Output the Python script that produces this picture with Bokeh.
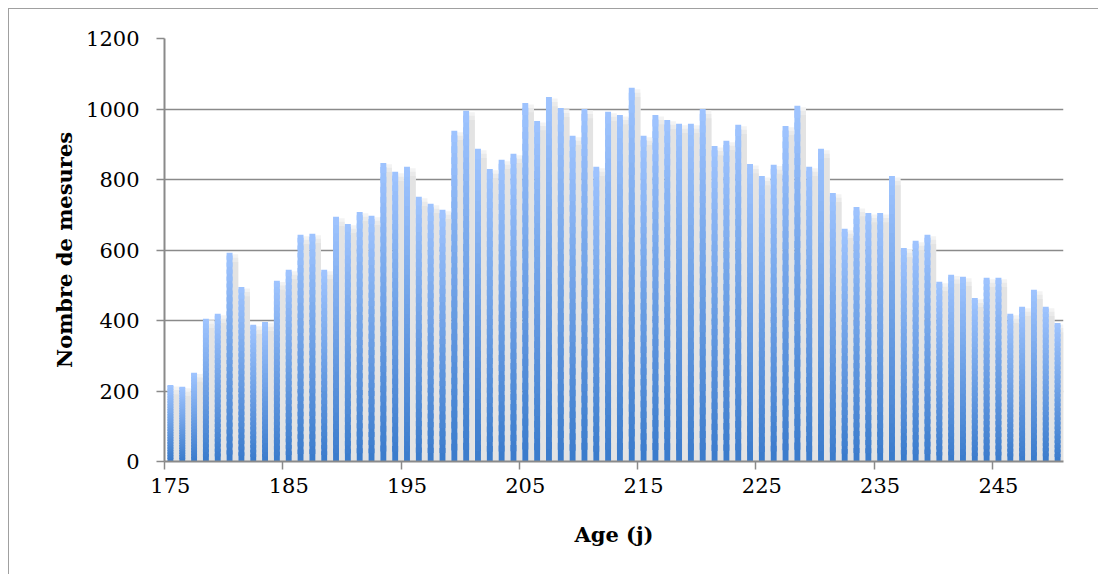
import numpy as np
from bokeh.plotting import figure
from bokeh.models import Range1d, FixedTicker, ColumnDataSource
from bokeh.transform import dodge
from bokeh.embed import file_html
from bokeh.resources import INLINE

# ---- data -------------------------------------------------------------
ages = list(range(175, 251))
counts = [217, 212, 252, 405, 419, 592, 495, 388, 396, 513, 544, 643, 646, 544, 694, 674, 708, 697,
          847, 822, 836, 751, 731, 714, 938, 995, 887, 830, 856, 873, 1017, 966, 1034, 1003, 924, 1000, 836,
          992, 983, 1060, 924, 983, 969, 958, 958, 1000, 895, 910, 955, 844, 810, 842, 952, 1009, 836, 887,
          762, 660, 722, 705, 705, 810, 606, 626, 643, 510, 530, 524, 464, 521, 521, 419, 439, 487, 439, 393]
x_tick_labels = [175, 185, 195, 205, 215, 225, 235, 245]
y_ticks = [0, 200, 400, 600, 800, 1000, 1200]

# ---- styling ----------------------------------------------------------
GRID = "#8a8a8a"
SERIF = "DejaVu Serif"
N_SLICES = 30
c_bot = np.array([58, 123, 204])
c_top = np.array([160, 197, 255])

p = figure(width=1090, height=566, output_backend="svg", toolbar_location=None,
           x_range=Range1d(174.5, 250.5), y_range=Range1d(0, 1200),
           min_border_left=155, min_border_right=36, min_border_top=29, min_border_bottom=114)
p.styles = {"margin-left": "8px", "margin-top": "8px",
            "border-left": "1px solid #a0a0a0", "border-top": "1px solid #a0a0a0"}
p.outline_line_color = None
p.background_fill_color = "white"
p.border_fill_color = "white"

# soft shadows to the right of each bar
src = ColumnDataSource(dict(age=ages, count=counts,
                            sh1=[c - 4 for c in counts],
                            sh2=[c - 14 for c in counts],
                            sh3=[c - 26 for c in counts]))
for top, col in (("sh1", "#f3f3f3"), ("sh2", "#eaeaea"), ("sh3", "#e3e3e3")):
    p.vbar(x=dodge("age", 0.33, range=p.x_range), top=top, width=0.8, source=src,
           fill_color=col, line_color=None)

# gradient bars built from slices of each value
xs, bots, tops, cols = [], [], [], []
for a, c in zip(ages, counts):
    for k in range(N_SLICES):
        f0 = k / N_SLICES
        f1 = min(1.0, (k + 1.6) / N_SLICES)
        t = (k + 0.5) / N_SLICES
        rgb = (c_bot + (c_top - c_bot) * t).astype(int)
        xs.append(a)
        bots.append(c * f0)
        tops.append(c * f1)
        cols.append("#%02x%02x%02x" % tuple(rgb))
p.vbar(x=xs, bottom=bots, top=tops, width=0.5, fill_color=cols, line_color=None)

# axes
p.xgrid.grid_line_color = None
p.ygrid.grid_line_color = GRID
p.ygrid.grid_line_width = 1.5
p.ygrid.ticker = FixedTicker(ticks=y_ticks)

p.yaxis.ticker = FixedTicker(ticks=y_ticks)
p.yaxis.axis_line_color = GRID
p.yaxis.axis_line_width = 2
p.yaxis.major_tick_line_color = GRID
p.yaxis.major_tick_line_width = 1.5
p.yaxis.major_tick_out = 8
p.yaxis.major_tick_in = 0
p.yaxis.minor_tick_line_color = None
p.yaxis.major_label_standoff = 17
p.yaxis.major_label_text_font = SERIF
p.yaxis.major_label_text_font_size = "21px"
p.yaxis.major_label_text_color = "black"
p.yaxis.axis_label = "Nombre de mesures"
p.yaxis.axis_label_text_font = SERIF
p.yaxis.axis_label_text_font_style = "bold"
p.yaxis.axis_label_text_font_size = "21px"
p.yaxis.axis_label_text_color = "black"
p.yaxis.axis_label_standoff = 6

p.xaxis.ticker = FixedTicker(ticks=x_tick_labels,
                             minor_ticks=[a - 0.5 for a in x_tick_labels])
p.xaxis.axis_line_color = GRID
p.xaxis.axis_line_width = 2
p.xaxis.major_tick_line_color = None
p.xaxis.major_tick_out = 8
p.xaxis.major_tick_in = 0
p.xaxis.minor_tick_line_color = GRID
p.xaxis.minor_tick_line_width = 1.5
p.xaxis.minor_tick_out = 8
p.xaxis.minor_tick_in = 0
p.xaxis.major_label_standoff = 8
p.xaxis.major_label_text_font = SERIF
p.xaxis.major_label_text_font_size = "21px"
p.xaxis.major_label_text_color = "black"
p.xaxis.axis_label = "Age (j)"
p.xaxis.axis_label_text_font = SERIF
p.xaxis.axis_label_text_font_style = "bold"
p.xaxis.axis_label_text_font_size = "21px"
p.xaxis.axis_label_text_color = "black"
p.xaxis.axis_label_standoff = 26

open("out.html", "w").write(file_html(p, INLINE))
